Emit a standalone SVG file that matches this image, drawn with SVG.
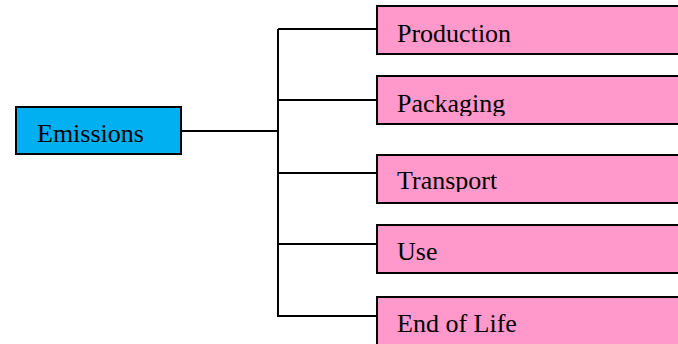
<svg xmlns="http://www.w3.org/2000/svg" width="678" height="344" viewBox="0 0 678 344">
  <style>
    .box { stroke: #000; stroke-width: 2; }
    .root { fill: #00B0F0; }
    .leaf { fill: #FF99CC; }
    .lbl { font-family: "Liberation Serif", "Times New Roman", serif; font-size: 26px; fill: #000; }
    .conn { stroke: #000; stroke-width: 2; fill: none; }
  </style>
  <defs>
    <clipPath id="clipPack"><rect x="377" y="76" width="301" height="40"/></clipPath>
    <clipPath id="clipTrans"><rect x="377" y="155" width="301" height="37"/></clipPath>
  </defs>
  <rect width="678" height="344" fill="#fff"/>
  <g id="connectors">
    <path class="conn" d="M181,131 H278"/>
    <path class="conn" d="M278,29 V317"/>
    <path class="conn" d="M278,29 H377"/>
    <path class="conn" d="M278,100 H377"/>
    <path class="conn" d="M278,173 H377"/>
    <path class="conn" d="M278,244 H377"/>
    <path class="conn" d="M278,316 H377"/>
  </g>
  <g id="emissions">
    <rect class="box root" x="16" y="107" width="165" height="47"/>
    <text class="lbl" x="37" y="142">Emissions</text>
  </g>
  <g id="production">
    <rect class="box leaf" x="377" y="6" width="310" height="48"/>
    <text class="lbl" x="397" y="42">Production</text>
  </g>
  <g id="packaging">
    <rect class="box leaf" x="377" y="76" width="310" height="48"/>
    <text class="lbl" x="397" y="112" clip-path="url(#clipPack)">Packaging</text>
  </g>
  <g id="transport">
    <rect class="box leaf" x="377" y="155" width="310" height="48"/>
    <text class="lbl" x="397" y="189" clip-path="url(#clipTrans)">Transport</text>
  </g>
  <g id="use">
    <rect class="box leaf" x="377" y="225" width="310" height="48"/>
    <text class="lbl" x="397" y="260">Use</text>
  </g>
  <g id="end-of-life">
    <rect class="box leaf" x="377" y="297" width="310" height="60"/>
    <text class="lbl" x="397" y="332">End of Life</text>
  </g>
</svg>
